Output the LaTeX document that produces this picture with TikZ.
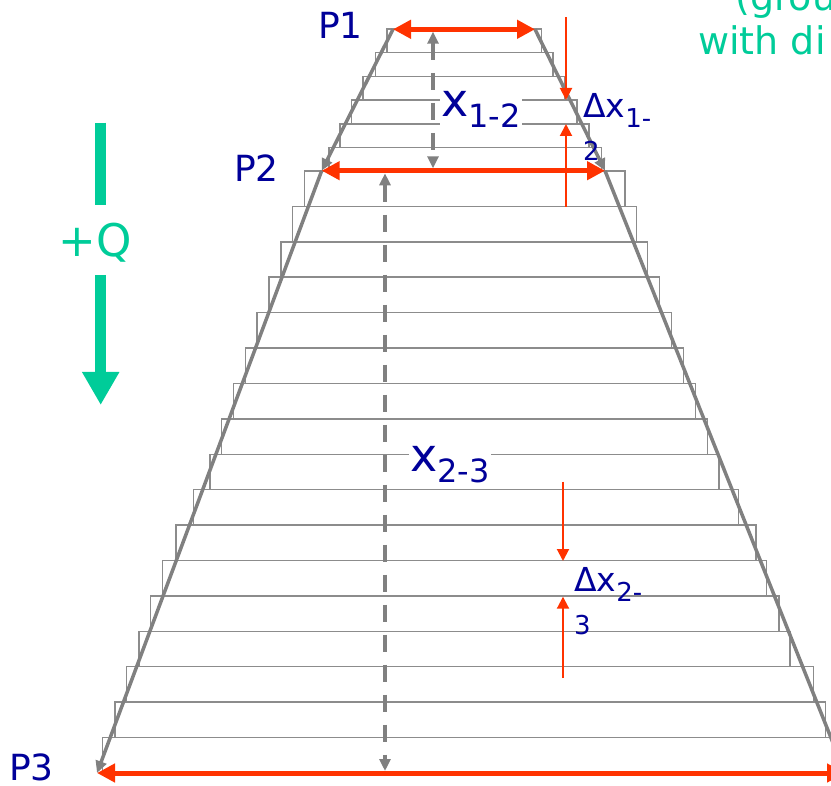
\documentclass[tikz,border=0pt]{standalone}
\usepackage{fontspec}
\setmainfont{DejaVu Sans}
\usepackage{xcolor}
\usetikzlibrary{arrows.meta}
\definecolor{qgreen}{RGB}{0,204,153}
\definecolor{lblue}{RGB}{0,0,153}
\definecolor{dimred}{RGB}{255,51,0}
\definecolor{edgegray}{RGB}{128,128,128}
\definecolor{slabgray}{RGB}{140,140,140}
\newcommand\bigsub[1]{\raisebox{-11pt}{\fontsize{32}{32}\selectfont #1}}
\newcommand\smallsub[1]{\raisebox{-10pt}{\fontsize{26}{26}\selectfont #1}}
\tikzset{
  slab/.style={draw=slabgray, line width=1.5pt},
  edgeline/.style={draw=edgegray, line width=3.5pt,
    -{Triangle[length=12pt,width=11pt]}},
  spanarrow/.style={draw=dimred, line width=5pt,
    {Triangle[length=18pt,width=18pt]}-{Triangle[length=18pt,width=18pt]}},
  thinarrow/.style={draw=dimred, line width=2pt,
    -{Triangle[length=12pt,width=12pt]}},
  dimdash/.style={draw=edgegray, line width=4pt, dash pattern=on 17pt off 13pt,
    {Triangle[length=12pt,width=11pt]}-{Triangle[length=12pt,width=11pt]}},
  qbar/.style={draw=qgreen, line width=11pt},
  plabel/.style={text=lblue, font=\fontsize{36}{40}\selectfont,
    inner sep=0pt, anchor=base west},
  xlabel/.style={text=lblue, fill=white, font=\fontsize{46}{50}\selectfont,
    inner sep=1pt, anchor=base west},
  dxlabel/.style={text=lblue, font=\fontsize{33}{33}\selectfont,
    align=left, inner sep=0pt, anchor=base west},
  glabel/.style={text=qgreen, font=\fontsize{38}{42}\selectfont,
    inner sep=0pt, anchor=base west}
}

\begin{document}
\begin{tikzpicture}[x=1pt, y=-1pt]
  \useasboundingbox (0,0) rectangle (831,786);

  % slabs between P1 and P2
  \foreach \t/\l/\r in {29/387/541.7, 52.7/375.7/553, 76.4/363/565,
      100.1/351.7/577, 123.8/340/589, 147.5/329/601.7}
    \draw[slab] (\l,\t) rectangle (\r,\t+23.7);
  % slabs between P2 and P3
  \foreach \k/\l/\r in {0/304.3/625, 1/292.7/636.7, 2/281/647.7,
      3/269/659.3, 4/257/671.7, 5/245.3/683.3, 6/233.3/695.3,
      7/221.3/707.3, 8/210/719, 9/193.3/738.3, 10/176/756,
      11/162.7/766.7, 12/150.7/779, 13/139/790, 14/126.7/813.3,
      15/115/825.7, 16/102.7/845}
    \draw[slab] (\l,171+35.41*\k) rectangle (\r,206.41+35.41*\k);

  \coordinate (p1l) at (393,29.3);
  \coordinate (p1r) at (535,29.3);
  \coordinate (p2l) at (321.7,170.7);
  \coordinate (p2r) at (605,170.7);
  \coordinate (p3l) at (97,773);
  \coordinate (p3r) at (845,773);

  \draw[edgeline] (p1l) -- (p2l);
  \draw[edgeline] (p1r) -- (p2r);
  \draw[edgeline] (p2l) -- (p3l);
  \draw[edgeline] (p2r) -- (p3r);

  \draw[spanarrow] (p1l) -- (p1r);
  \draw[spanarrow] (p2l) -- (p2r);
  \draw[spanarrow] (p3l) -- (p3r);

  % thickness x between sections
  \coordinate (x12top) at (433,31.7);
  \coordinate (x12bot) at (433,168.3);
  \coordinate (x23top) at (385,173.3);
  \coordinate (x23bot) at (385,771);
  \draw[dimdash] (x12top) -- (x12bot);
  \draw[dimdash] (x23top) -- (x23bot);

  % slab thickness
  \coordinate (dx12a) at (566,17.3);
  \coordinate (dx12atip) at (566,100);
  \coordinate (dx12b) at (566,206.7);
  \coordinate (dx12btip) at (566,124);
  \coordinate (dx23a) at (563,481.7);
  \coordinate (dx23atip) at (563,561);
  \coordinate (dx23b) at (563,678);
  \coordinate (dx23btip) at (563,596.7);
  \draw[thinarrow] (dx12a) -- (dx12atip);
  \draw[thinarrow] (dx12b) -- (dx12btip);
  \draw[thinarrow] (dx23a) -- (dx23atip);
  \draw[thinarrow] (dx23b) -- (dx23btip);

  % heat flow
  \coordinate (qtop) at (100.7,122.7);
  \coordinate (qtip) at (100.7,405);
  \node[text=qgreen, font=\fontsize{45}{50}\selectfont, anchor=base,
    inner xsep=0pt, inner ysep=18pt, text height=33pt, text depth=0pt]
    (qlabel) at (95,256.7) {+Q};
  \draw[qbar] (qtop) -- (qtop |- qlabel.north);
  \draw[qbar, -{Triangle[length=33pt,width=35pt]}] (qtop |- qlabel.south)
    -- (qtip);

  \node[plabel] (p1lab) at (318,38.3) {P1};
  \node[plabel] (p2lab) at (234,182) {P2};
  \node[plabel] (p3lab) at (9,780) {P3};

  \node[xlabel] (x12lab) at (440,116.7) {x\bigsub{1-2}};
  \node[xlabel] (x23lab) at (409,472) {x\bigsub{2-3}};

  % base anchor of a two-line node sits on its last line
  \node[dxlabel] (dx12lab) at (583,150.5) {Δx\smallsub{1-}\\\smallsub{2}};
  \node[dxlabel] (dx23lab) at (574,624) {Δx\smallsub{2-}\\\smallsub{3}};

  \node[glabel] (grouplab) at (735,11) {(grou};
  \node[glabel] (withlab) at (698,55) {with di};
\end{tikzpicture}
\end{document}
